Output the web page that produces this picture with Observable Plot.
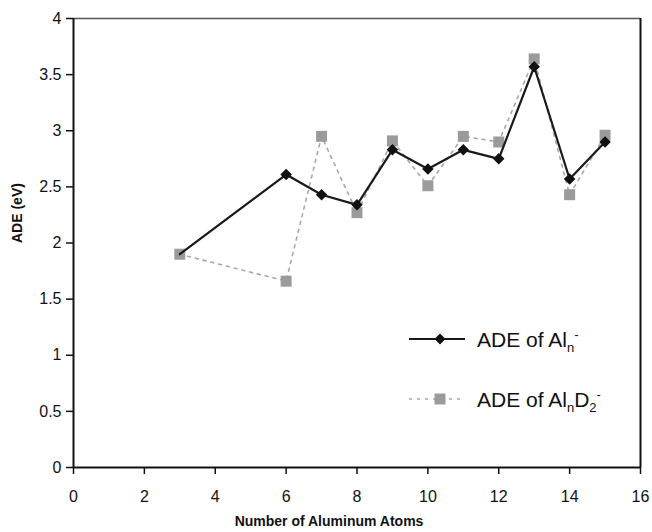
<!DOCTYPE html>
<html>
<head>
<meta charset="utf-8">
<script src="https://cdn.jsdelivr.net/npm/d3@7"></script>
<script src="https://cdn.jsdelivr.net/npm/@observablehq/plot@0.6"></script>
<style>
  html, body { margin: 0; padding: 0; background: #fff; }
  #wrap { position: relative; width: 652px; height: 532px; font-family: "Liberation Sans", Arial, sans-serif; }
  .leg { position: absolute; font-size: 21px; color: #111; white-space: nowrap; line-height: 1; }
  .leg sub, .leg sup { font-size: 13px; line-height: 0; }
  .legsw { position: absolute; }
</style>
</head>
<body>
<div id="wrap"></div>
<script>
// Data
const atoms = [3, 6, 7, 8, 9, 10, 11, 12, 13, 14, 15];
const adeAln = [1.90, 2.61, 2.43, 2.34, 2.83, 2.66, 2.83, 2.75, 3.57, 2.57, 2.90];
const adeAlnD2 = [1.90, 1.66, 2.95, 2.27, 2.91, 2.51, 2.95, 2.90, 3.64, 2.43, 2.96];
const xTicks = [0, 2, 4, 6, 8, 10, 12, 14, 16];
const yTicks = [0, 0.5, 1, 1.5, 2, 2.5, 3, 3.5, 4];
const xLabel = "Number of Aluminum Atoms";
const yLabel = "ADE (eV)";

const alnData = atoms.map((n, i) => ({n, v: adeAln[i]}));
const d2Data = atoms.map((n, i) => ({n, v: adeAlnD2[i]}));

const chart = Plot.plot({
  width: 652,
  height: 532,
  marginLeft: 73,
  marginRight: 12,
  marginTop: 18,
  marginBottom: 65,
  style: {fontFamily: "Liberation Sans, Arial, sans-serif", fontSize: "16px", color: "#111", background: "#fff"},
  x: {domain: [0, 16]},
  y: {domain: [0, 4]},
  marks: [
    Plot.ruleY([4], {stroke: "#555", strokeWidth: 1.5}),
    Plot.ruleX([16], {stroke: "#111", strokeWidth: 2}),
    Plot.axisX({ticks: xTicks, tickSize: 7, tickPadding: 16, tickFormat: d => String(d), label: null, fontSize: 16, stroke: "#111", strokeWidth: 1.5, fill: "#111"}),
    Plot.axisY({ticks: yTicks, tickSize: 7, tickPadding: 5, tickFormat: d => String(d), label: null, fontSize: 16, stroke: "#111", strokeWidth: 1.5, fill: "#111"}),
    Plot.ruleY([0], {stroke: "#111", strokeWidth: 2}),
    Plot.ruleX([0], {stroke: "#111", strokeWidth: 2}),
    Plot.line(d2Data, {x: "n", y: "v", stroke: "#a8a8a8", strokeWidth: 1.6, strokeDasharray: "3,5"}),
    Plot.dot(d2Data, {x: "n", y: "v", symbol: "square", r: 6.2, fill: "#9b9b9b", stroke: "none"}),
    Plot.line(alnData, {x: "n", y: "v", stroke: "#1a1a1a", strokeWidth: 2.2}),
    Plot.dot(alnData.filter(d => d.n !== 3), {x: "n", y: "v", symbol: "diamond2", r: 5.2, fill: "#111", stroke: "none"}),
    Plot.text([xLabel], {frameAnchor: "bottom", dy: 58, dx: -28, text: d => d, fontSize: 14, fontWeight: "bold", fill: "#111"}),
    Plot.text([yLabel], {frameAnchor: "left", dx: -56, rotate: -90, text: d => d, fontSize: 14, fontWeight: "bold", fill: "#111"})
  ]
});
const wrap = document.getElementById("wrap");
wrap.appendChild(chart);

// Legend (HTML overlay)
const legendItems = [
  {html: "ADE of Al<sub>n</sub><sup>-</sup>", y: 339, kind: "aln"},
  {html: "ADE of Al<sub>n</sub>D<sub>2</sub><sup>-</sup>", y: 399, kind: "d2"}
];
legendItems.forEach(it => {
  const sw = document.createElementNS("http://www.w3.org/2000/svg", "svg");
  sw.setAttribute("width", 62);
  sw.setAttribute("height", 20);
  sw.setAttribute("class", "legsw");
  sw.style.left = "406px";
  sw.style.top = (it.y - 10) + "px";
  if (it.kind === "aln") {
    sw.innerHTML = '<line x1="3" y1="10" x2="59" y2="10" stroke="#1a1a1a" stroke-width="2.2"/>' +
      '<path d="M34,4.5 L39.5,10 L34,15.5 L28.5,10 Z" fill="#111"/>';
  } else {
    sw.innerHTML = '<line x1="3" y1="10" x2="59" y2="10" stroke="#a8a8a8" stroke-width="1.6" stroke-dasharray="3,5"/>' +
      '<rect x="28.5" y="4.5" width="11" height="11" fill="#9b9b9b"/>';
  }
  wrap.appendChild(sw);
  const t = document.createElement("div");
  t.className = "leg";
  t.innerHTML = it.html;
  t.style.left = "477px";
  t.style.top = (it.y - 10) + "px";
  wrap.appendChild(t);
});
</script>
</body>
</html>
